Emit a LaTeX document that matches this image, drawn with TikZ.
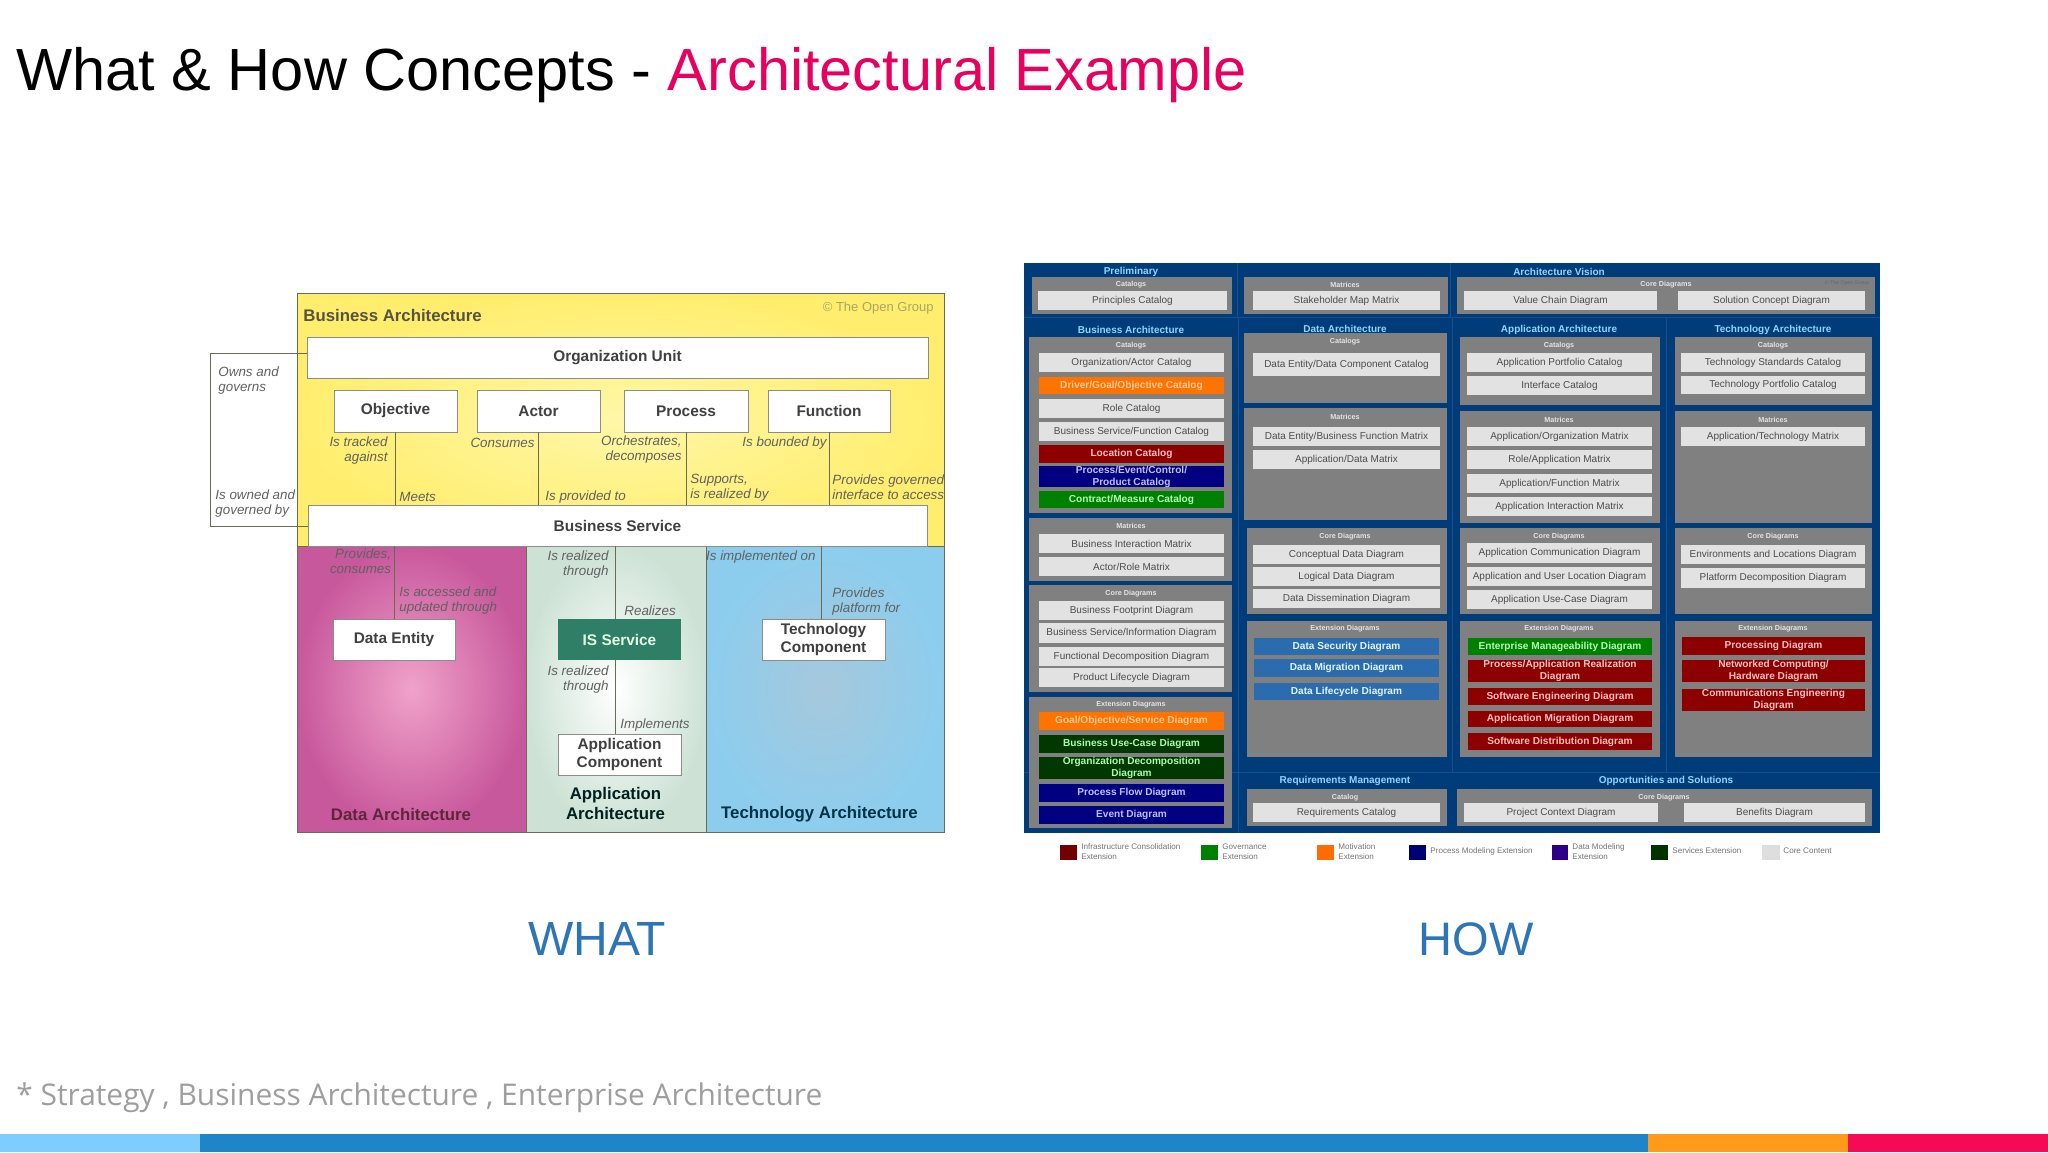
\documentclass[tikz,border=0pt]{standalone}
\usepackage{fontspec}
\setmainfont{Liberation Sans}
\newfontfamily\notefont{Open Sans}
\usepackage{tikz}

\definecolor{navyback}{HTML}{003C7A}
\definecolor{navyline}{HTML}{14508C}
\definecolor{panelgray}{HTML}{808080}
\definecolor{cellgray}{HTML}{E2E2E2}
\definecolor{edgeline}{HTML}{6B6B55}
\definecolor{titlepink}{HTML}{E8005F}
\definecolor{isgreen}{HTML}{2F7F67}
\definecolor{busedge}{HTML}{FFEE6E}
\definecolor{buscore}{HTML}{FFF7A8}
\definecolor{dataedge}{HTML}{C8589C}
\definecolor{datacore}{HTML}{F0A2CA}
\definecolor{appedge}{HTML}{CDE2D5}
\definecolor{techedge}{HTML}{8CCDEE}
\definecolor{techcore}{HTML}{A6C8DC}
\definecolor{datablue}{HTML}{2A6CAE}
\definecolor{barone}{HTML}{7FCDFF}
\definecolor{bartwo}{HTML}{1E86C8}
\definecolor{barthree}{HTML}{FF9A1A}
\definecolor{barfour}{HTML}{F50A55}
\definecolor{whatblue}{HTML}{2E75B6}
\colorlet{notecolor}{black!62}

\newcommand{\fsize}[1]{\fontsize{#1}{#1}\selectfont}
\newcommand{\tile}[7]{%
  \pgfmathsetmacro{\tilew}{(#5-#3)*0.5}%
  \pgfmathsetmacro{\tileh}{(#6-#4)*0.5}%
  \node[#1,minimum width=\tilew pt,minimum height=\tileh pt] (#2) at ({(#3+#5)/2},{(#4+#6)/2}) {#7};}

\tikzset{
  base tile/.style={rectangle,inner sep=0pt,outer sep=0pt,align=center},
  white box/.style={base tile,fill=white,draw=black!45,line width=0.5pt,text=black!75,font=\bfseries\fsize{7.7}},
  green box/.style={white box,draw=none,fill=isgreen,text=white!90!green},
  small note/.style={inner sep=0pt,align=left,anchor=west,font=\itshape\fontsize{6.7}{7.5}\selectfont,text=notecolor},
  right note/.style={small note,align=right,anchor=east},
  layer name/.style={inner sep=0pt,align=center,font=\bfseries\fsize{8.4}},
  link/.style={draw=edgeline,line width=0.5pt},
  gray panel/.style={base tile,fill=panelgray},
  gray cell/.style={base tile,fill=cellgray,text=black!70,font=\fsize{5}},
  ext cell/.style={base tile,font=\bfseries\fontsize{5.05}{6}\selectfont},
  orange cell/.style={ext cell,fill=orange!90!red,text=orange!40!white},
  red cell/.style={ext cell,fill=red!55!black,text=red!25!white},
  navy cell/.style={ext cell,fill=blue!50!black,text=blue!25!white},
  lime cell/.style={ext cell,fill=green!50!black,text=green!30!white},
  dark cell/.style={ext cell,fill=green!22!black,text=green!35!white},
  blue cell/.style={ext cell,fill=datablue,text=cyan!12!white},
  col head/.style={inner sep=0pt,font=\bfseries\fsize{5},text=blue!35!cyan!45!white},
  sub head/.style={inner sep=0pt,font=\bfseries\fsize{3.6},text=white!80!gray},
  key text/.style={inner sep=0pt,anchor=west,align=left,font=\fontsize{4.05}{5}\selectfont,text=black!55},
  stripe/.style={base tile}
}

\begin{document}
\begin{tikzpicture}[x=0.5pt,y=-0.5pt]
  \useasboundingbox (0,0) rectangle (2048,1152);

  \node[inner sep=0pt,anchor=base west,font=\fsize{29.75}] (pagetitle) at (16,90)
    {What \& How Concepts - \textcolor{titlepink}{Architectural Example}};

  \tile{base tile,shade,inner color=buscore,outer color=busedge,draw=edgeline}{busarch}{297}{293}{944}{546}{}
  \tile{base tile,shade,inner color=datacore,outer color=dataedge,draw=edgeline}{dataarch}{297}{546}{526}{832}{}
  \tile{base tile,shade,inner color=white,outer color=appedge,draw=edgeline}{apparch}{526}{546}{706}{832}{}
  \tile{base tile,shade,inner color=techcore,outer color=techedge,draw=edgeline}{techarch}{706}{546}{944}{832}{}

  \tile{white box}{orgunit}{307}{337}{928}{378}{Organization Unit}
  \tile{white box}{objective}{334}{390}{457}{432}{Objective}
  \tile{white box}{actor}{477}{390}{600}{432}{Actor}
  \tile{white box}{process}{624}{390}{748}{432}{Process}
  \tile{white box}{function}{768}{390}{890}{432}{Function}
  \tile{white box}{busservice}{308}{505}{927}{546}{Business Service}
  \tile{white box}{dataentity}{333}{619}{455}{660}{Data Entity}
  \tile{green box}{isservice}{558}{619}{681}{660}{IS Service}
  \tile{white box}{appcomp}{558}{734}{681}{775}{Application\\[1pt]Component}
  \tile{white box}{techcomp}{762}{619}{885}{660}{Technology\\[1pt]Component}

  \coordinate (ownstop) at (210,353);
  \coordinate (ownsbot) at (210,526);
  \coordinate (isup) at (615.5,619);
  \coordinate (isdown) at (615.5,660);
  \coordinate (techup) at (821,619);

  \path[link]
  (objective.south) edge (objective.south |- busservice.north)
  (actor.south) edge (actor.south |- busservice.north)
  (process.south) edge (process.south |- busservice.north)
  (function.south) edge (function.south |- busservice.north)
  (dataentity.north) edge (dataentity.north |- busservice.south)
  (isup) edge (isup |- busservice.south)
  (isdown) edge (isdown |- appcomp.north)
  (techup) edge (techup |- busservice.south);
  \draw[link] (orgunit.west |- ownstop) -- (ownstop) -- (ownsbot) -- (busservice.west |- ownsbot);

  \node[layer name,anchor=west,text=black!70!yellow!80!black] (busname) at (303,315) {Business Architecture};
  \node[inner sep=0pt,anchor=east,font=\fsize{6.5},text=black!30!yellow!60!gray] (copyname) at (934,308) {© The Open Group};
  \node[layer name,text=purple!35!black!85] (dataname) at (401,814) {Data Architecture};
  \node[layer name,text=black!75!teal] (appname) at (615.5,803.5) {Application\\[2pt]Architecture};
  \node[layer name,text=blue!30!cyan!28!black] (techname) at (819.5,814.5) {Technology Architecture};

  \node[small note] (n1) at (218,380.5) {Owns and\\governs};
  \node[small note] (n2) at (215,504) {Is owned and\\governed by};
  \node[right note] (n3) at (388,450.5) {Is tracked\\against};
  \node[small note] (n4) at (399,497) {Meets};
  \node[right note] (n5) at (535,443) {Consumes};
  \node[small note] (n6) at (545,497) {Is provided to};
  \node[right note] (n7) at (682,450) {Orchestrates,\\decomposes};
  \node[small note] (n8) at (690,487.5) {Supports,\\is realized by};
  \node[right note] (n9) at (827,443) {Is bounded by};
  \node[small note] (n10) at (832,487.5) {Provides governed\\interface to access};
  \node[right note] (n11) at (391.5,561) {Provides,\\consumes};
  \node[small note] (n12) at (399,601) {Is accessed and\\updated through};
  \node[right note] (n13) at (609,564.5) {Is realized\\through};
  \node[small note] (n14) at (624,611) {Realizes};
  \node[right note] (n15) at (609,679.5) {Is realized\\through};
  \node[small note] (n16) at (620,725) {Implements};
  \node[right note] (n17) at (816,557) {Is implemented on};
  \node[small note] (n18) at (832,601.5) {Provides\\platform for};

  \tile{base tile,fill=navyback}{howback}{1024}{263}{1880}{833}{}
  \path[draw=navyline,line width=0.5pt]
  (1237,263) edge (1237,317)
  (1450,263) edge (1450,317)
  (1024,317) edge (1880,317)
  (1238,317) edge (1238,772)
  (1452,317) edge (1452,772)
  (1666,317) edge (1666,772)
  (1024,772) edge (1880,772)
  (1238,772) edge (1238,833);

  \tile{gray panel}{p1}{1032}{277}{1232}{314}{}
  \tile{gray panel}{p2}{1244}{277}{1448}{314}{}
  \tile{gray panel}{p3}{1457}{277}{1875}{314}{}
  \tile{gray panel}{p4}{1029}{337}{1232}{513}{}
  \tile{gray panel}{p5}{1029}{518}{1232}{581}{}
  \tile{gray panel}{p6}{1029}{585}{1232}{692}{}
  \tile{gray panel}{p7}{1029}{697}{1232}{828}{}
  \tile{gray panel}{p8}{1244}{333}{1447}{403}{}
  \tile{gray panel}{p9}{1244}{408}{1447}{520}{}
  \tile{gray panel}{p10}{1247}{528}{1447}{614}{}
  \tile{gray panel}{p11}{1247}{621}{1447}{757}{}
  \tile{gray panel}{p12}{1247}{789}{1447}{826}{}
  \tile{gray panel}{p13}{1460}{337}{1660}{405}{}
  \tile{gray panel}{p14}{1460}{411}{1660}{523}{}
  \tile{gray panel}{p15}{1460}{528}{1660}{614}{}
  \tile{gray panel}{p16}{1460}{621}{1660}{757}{}
  \tile{gray panel}{p17}{1675}{337}{1872}{405}{}
  \tile{gray panel}{p18}{1675}{411}{1872}{523}{}
  \tile{gray panel}{p19}{1675}{528}{1872}{614}{}
  \tile{gray panel}{p20}{1675}{621}{1872}{757}{}
  \tile{gray panel}{p21}{1457}{789}{1872}{826}{}

  \node[col head] (hprelim) at (1131,272) {Preliminary};
  \node[col head] (hvision) at (1559,272) {Architecture Vision};
  \node[col head] (hbus) at (1131,330) {Business Architecture};
  \node[col head] (hdata) at (1345,329) {Data Architecture};
  \node[col head] (happ) at (1559,330) {Application Architecture};
  \node[col head] (htech) at (1773,330) {Technology Architecture};
  \node[col head] (hreq) at (1345,781) {Requirements Management};
  \node[col head] (hopp) at (1666,781) {Opportunities and Solutions};

  \foreach \nm/\xx/\yy/\txt in {
    s1/1131/285/Catalogs, s2/1345/285/Matrices, s3/1666/285/Core Diagrams,
    s4/1131/346/Catalogs, s5/1131/526/Matrices, s6/1131/594/Core Diagrams, s7/1131/705/Extension Diagrams,
    s8/1345/342/Catalogs, s9/1345/417/Matrices, s10/1345/537/Core Diagrams, s11/1345/629/Extension Diagrams, s12/1345/798/Catalog,
    s13/1559/346/Catalogs, s14/1559/420/Matrices, s15/1559/537/Core Diagrams, s16/1559/629/Extension Diagrams,
    s17/1773/346/Catalogs, s18/1773/420/Matrices, s19/1773/537/Core Diagrams, s20/1773/629/Extension Diagrams, s21/1664/798/Core Diagrams}
    \node[sub head] (\nm) at (\xx,\yy) {\txt};
  \node[inner sep=0pt,font=\fsize{2.6},text=black!60] (howcopy) at (1847,283) {© The Open Group};

  \tile{gray cell}{c1}{1038}{291}{1227}{310}{Principles Catalog}
  \tile{gray cell}{c2}{1253}{291}{1440}{310}{Stakeholder Map Matrix}
  \tile{gray cell}{c3}{1464}{291}{1657}{310}{Value Chain Diagram}
  \tile{gray cell}{c4}{1678}{291}{1865}{310}{Solution Concept Diagram}

  \tile{gray cell}{b1}{1039}{353}{1224}{372}{Organization/Actor Catalog}
  \tile{orange cell}{b2}{1039}{377}{1224}{394}{Driver/Goal/Objective Catalog}
  \tile{gray cell}{b3}{1039}{399}{1224}{418}{Role Catalog}
  \tile{gray cell}{b4}{1039}{422}{1224}{441}{Business Service/Function Catalog}
  \tile{red cell}{b5}{1039}{445}{1224}{463}{Location Catalog}
  \tile{navy cell}{b6}{1039}{466}{1224}{487}{Process/Event/Control/\\Product Catalog}
  \tile{lime cell}{b7}{1039}{491}{1224}{508}{Contract/Measure Catalog}
  \tile{gray cell}{b8}{1039}{534}{1224}{553}{Business Interaction Matrix}
  \tile{gray cell}{b9}{1039}{557}{1224}{576}{Actor/Role Matrix}
  \tile{gray cell}{b10}{1039}{601}{1224}{620}{Business Footprint Diagram}
  \tile{gray cell}{b11}{1039}{623}{1224}{643}{Business Service/Information Diagram}
  \tile{gray cell}{b12}{1039}{647}{1224}{666}{Functional Decomposition Diagram}
  \tile{gray cell}{b13}{1039}{668}{1224}{687}{Product Lifecycle Diagram}
  \tile{orange cell}{b14}{1039}{712}{1224}{730}{Goal/Objective/Service Diagram}
  \tile{dark cell}{b15}{1039}{735}{1224}{753}{Business Use-Case Diagram}
  \tile{dark cell}{b16}{1039}{757}{1224}{779}{Organization Decomposition\\Diagram}
  \tile{navy cell}{b17}{1039}{784}{1224}{802}{Process Flow Diagram}
  \tile{navy cell}{b18}{1039}{806}{1224}{824}{Event Diagram}

  \tile{gray cell}{d1}{1253}{353}{1440}{376}{Data Entity/Data Component Catalog}
  \tile{gray cell}{d2}{1253}{427}{1440}{446}{Data Entity/Business Function Matrix}
  \tile{gray cell}{d3}{1253}{450}{1440}{469}{Application/Data Matrix}
  \tile{gray cell}{d4}{1253}{545}{1440}{564}{Conceptual Data Diagram}
  \tile{gray cell}{d5}{1253}{567}{1440}{586}{Logical Data Diagram}
  \tile{gray cell}{d6}{1253}{589}{1440}{608}{Data Dissemination Diagram}
  \tile{blue cell}{d7}{1254}{638}{1439}{655}{Data Security Diagram}
  \tile{blue cell}{d8}{1254}{659}{1439}{677}{Data Migration Diagram}
  \tile{blue cell}{d9}{1254}{683}{1439}{700}{Data Lifecycle Diagram}
  \tile{gray cell}{d10}{1253}{803}{1440}{822}{Requirements Catalog}

  \tile{gray cell}{a1}{1467}{353}{1652}{372}{Application Portfolio Catalog}
  \tile{gray cell}{a2}{1467}{376}{1652}{395}{Interface Catalog}
  \tile{gray cell}{a3}{1467}{427}{1652}{446}{Application/Organization Matrix}
  \tile{gray cell}{a4}{1467}{450}{1652}{469}{Role/Application Matrix}
  \tile{gray cell}{a5}{1467}{474}{1652}{493}{Application/Function Matrix}
  \tile{gray cell}{a6}{1467}{497}{1652}{516}{Application Interaction Matrix}
  \tile{gray cell}{a7}{1467}{543}{1652}{563}{Application Communication Diagram}
  \tile{gray cell}{a8}{1467}{567}{1652}{586}{Application and User Location Diagram}
  \tile{gray cell}{a9}{1467}{590}{1652}{609}{Application Use-Case Diagram}
  \tile{lime cell}{a10}{1468}{638}{1652}{655}{Enterprise Manageability Diagram}
  \tile{red cell}{a11}{1468}{660}{1652}{682}{Process/Application Realization\\Diagram}
  \tile{red cell}{a12}{1468}{688}{1652}{705}{Software Engineering Diagram}
  \tile{red cell}{a13}{1468}{711}{1652}{727}{Application Migration Diagram}
  \tile{red cell}{a14}{1468}{733}{1652}{750}{Software Distribution Diagram}
  \tile{gray cell}{a15}{1464}{803}{1658}{822}{Project Context Diagram}
  \tile{gray cell}{a16}{1684}{803}{1865}{822}{Benefits Diagram}

  \tile{gray cell}{t1}{1681}{353}{1865}{372}{Technology Standards Catalog}
  \tile{gray cell}{t2}{1681}{376}{1865}{394}{Technology Portfolio Catalog}
  \tile{gray cell}{t3}{1681}{427}{1865}{446}{Application/Technology Matrix}
  \tile{gray cell}{t4}{1681}{545}{1865}{564}{Environments and Locations Diagram}
  \tile{gray cell}{t5}{1681}{568}{1865}{588}{Platform Decomposition Diagram}
  \tile{red cell}{t6}{1682}{637}{1865}{655}{Processing Diagram}
  \tile{red cell}{t7}{1682}{660}{1865}{682}{Networked Computing/\\Hardware Diagram}
  \tile{red cell}{t8}{1682}{689}{1865}{711}{Communications Engineering\\Diagram}

  \tile{base tile,fill=red!45!black}{k1}{1060}{845}{1077}{860}{}
  \tile{base tile,fill=green!50!black}{k2}{1201}{845}{1218}{860}{}
  \tile{base tile,fill=orange!85!red}{k3}{1317}{845}{1334}{860}{}
  \tile{base tile,fill=blue!45!black}{k4}{1409}{845}{1426}{860}{}
  \tile{base tile,fill=blue!50!violet!70!black}{k5}{1552}{845}{1568}{860}{}
  \tile{base tile,fill=green!20!black}{k6}{1651}{845}{1668}{860}{}
  \tile{base tile,fill=black!13}{k7}{1762}{845}{1780}{860}{}
  \node[key text] (kt1) at (1081,852) {Infrastructure Consolidation\\Extension};
  \node[key text] (kt2) at (1222,852) {Governance\\Extension};
  \node[key text] (kt3) at (1338,852) {Motivation\\Extension};
  \node[key text] (kt4) at (1430,851) {Process Modeling Extension};
  \node[key text] (kt5) at (1572,852) {Data Modeling\\Extension};
  \node[key text] (kt6) at (1672,851) {Services Extension};
  \node[key text] (kt7) at (1783,851) {Core Content};

  \node[inner sep=0pt,font=\fsize{24},text=whatblue] (what) at (597,939) {WHAT};
  \node[inner sep=0pt,font=\fsize{23.5},text=whatblue] (how) at (1476,939) {HOW};
  \node[inner sep=0pt,anchor=west,font=\notefont\fsize{14.96},text=black!38] (footnote) at (16,1098)
    {* Strategy , Business Architecture , Enterprise Architecture};

  \tile{stripe,fill=barone}{bar1}{0}{1134}{200}{1152}{}
  \tile{stripe,fill=bartwo}{bar2}{200}{1134}{1648}{1152}{}
  \tile{stripe,fill=barthree}{bar3}{1648}{1134}{1848}{1152}{}
  \tile{stripe,fill=barfour}{bar4}{1848}{1134}{2048}{1152}{}
\end{tikzpicture}
\end{document}
